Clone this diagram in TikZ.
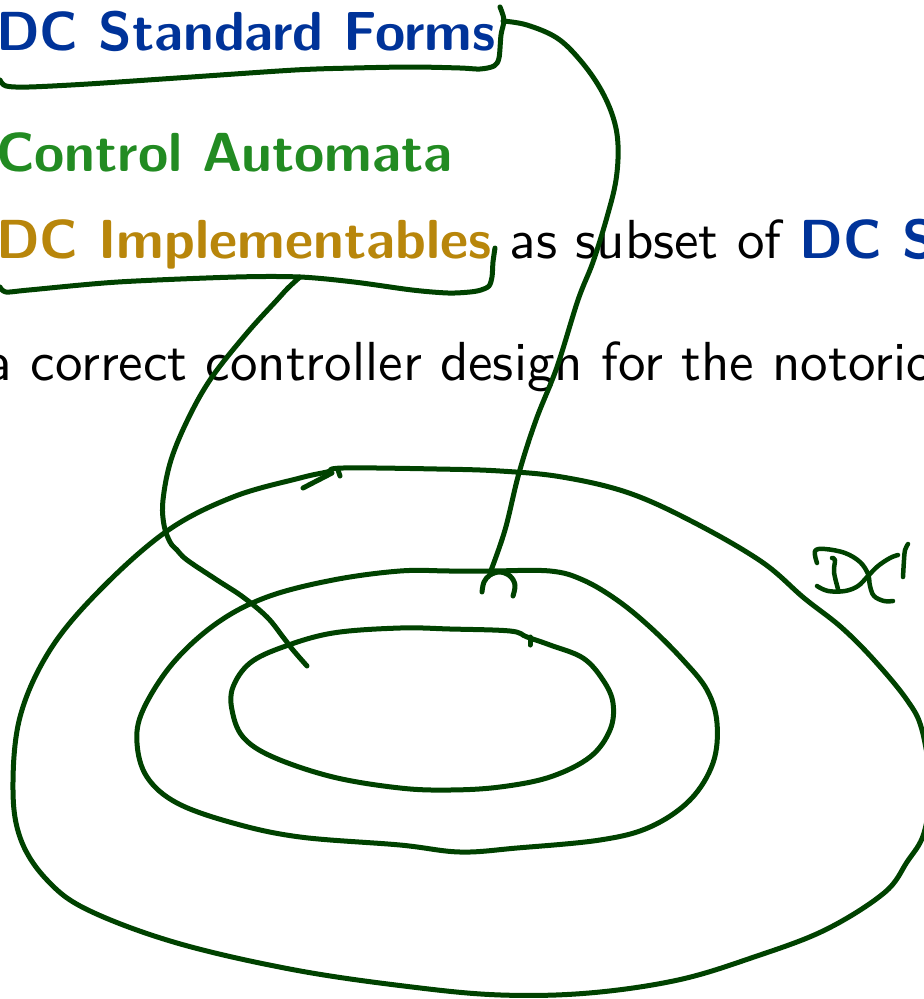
\documentclass[tikz,border=0pt]{standalone}
\usepackage{fontspec}
\setsansfont{lmsans10-regular}[Extension=.otf, BoldFont=lmsans10-bold]
\definecolor{dcblue}{RGB}{0,51,153}
\definecolor{dcgreen}{RGB}{34,139,34}
\definecolor{dcgold}{RGB}{184,134,11}
\definecolor{inkgreen}{RGB}{0,66,0}
\tikzset{
  txt/.style={anchor=base west, inner sep=0pt, outer sep=0pt,
    font=\sffamily\fontsize{55}{62}\selectfont},
  ink/.style={draw=inkgreen, line width=5pt, line cap=round, line join=round},
}
\begin{document}
\begin{tikzpicture}[x=1pt, y=-1pt]
\useasboundingbox (0,0) rectangle (924,999);
\clip (0,0) rectangle (924,999);

% slide text
\node[txt] (forms) at (-4,50) {\bfseries\color{dcblue}DC Standard Forms};
\node[txt] (automata) at (-4,171) {\bfseries\color{dcgreen}Control Automata};
\node[txt] (impl) at (-4,258) {{\bfseries\color{dcgold}DC Implementables} as subset of {\bfseries\color{dcblue}DC Standard Forms}};
\node[txt] (design) at (-14,380) {a correct controller design for the notorious gas burner};

% hand-drawn brackets under the two highlighted terms
\draw[ink] plot[smooth, tension=0.5] coordinates {(500,7) (504,20) (501,35) (499,58) (494,66) (480,69) (460,68) (412,67) (354,68) (295,70) (177,78) (88,84) (29,87) (6,86) (0,80)};
\draw[ink] plot[smooth, tension=0.5] coordinates {(495,248) (493,262) (492,277) (489,286) (481,290) (470,292) (448,293) (412,290) (354,282) (300,277) (236,277) (118,282) (29,290) (6,292) (0,287)};

\coordinate (formsEnd) at (503,21);
\coordinate (implEnd) at (300,277);
\coordinate (midTop) at (490,573);
\coordinate (innerTop) at (307,666);

% connector from DC Standard Forms to the middle region
\draw[ink] plot[smooth, tension=0.6] coordinates {(formsEnd) (527,25) (557,38) (580,60) (600,88) (613,117) (618,145) (616,180) (607,217) (593,262) (578,300) (557,367) (536,420) (519,473) (505,530) (midTop)};
\draw[ink] plot[smooth, tension=0.6] coordinates {(482,592) (484,582) (490,575) (500,572) (510,576) (515,585) (513,596)};

% connector from DC Implementables to the inner region
\draw[ink] plot[smooth, tension=0.6] coordinates {(implEnd) (288,288) (277,300) (247,333) (212,377) (189,417) (171,460) (163,500) (164,525) (170,542) (177,550) (187,560) (217,580) (243,597) (267,617) (283,637) (293,650) (innerTop)};

% outer region (DC)
\draw[ink] plot[smooth cycle, tension=0.6] coordinates {(343,468) (437,469) (500,471) (562,477) (629,493) (695,523) (762,562) (804,598) (841,627) (874,660) (907,700) (922,730) (930,785) (924,833) (907,862) (884,893) (825,930) (754,957) (678,980) (589,993) (501,995) (412,987) (295,970) (177,943) (88,910) (47,880) (21,840) (13,790) (20,717) (50,650) (100,590) (167,531) (233,497) (300,478) (327,472)};
\draw[ink] (303,488) -- (332,473);
\draw[ink] (338,470) -- (340,476);

% middle region
\draw[ink] plot[smooth cycle, tension=0.6] coordinates {(450,571) (490,571) (550,571) (583,580) (617,600) (650,627) (683,660) (707,690) (717,723) (713,763) (690,800) (650,827) (600,840) (517,848) (460,852) (400,845) (300,837) (233,823) (177,803) (147,777) (137,743) (143,710) (173,663) (217,623) (267,597) (333,580) (400,571)};

% inner region
\draw[ink] plot[smooth cycle, tension=0.6] coordinates {(450,629) (510,631) (527,637) (550,645) (583,658) (603,680) (613,703) (610,730) (590,757) (550,777) (500,787) (450,790) (400,788) (333,777) (273,757) (243,737) (232,710) (233,687) (250,663) (283,647) (333,633) (400,628)};
\draw[ink] (530,637) -- (530,645);

% handwritten "DC" label
\draw[ink, line width=4.5pt] plot[smooth, tension=0.6] coordinates {(817,563) (815,551) (825,549) (845,553) (860,562) (868,574) (870,586) (874,596) (884,601) (893,601)};
\draw[ink, line width=4.5pt] plot[smooth, tension=0.6] coordinates {(817,586) (828,591) (845,591) (858,586) (868,576) (878,566) (890,558) (898,555)};
\draw[ink, line width=4.5pt] plot[smooth, tension=0.6] coordinates {(832,558) (835,560) (834,572) (838,589)};
\draw[ink, line width=4.5pt] plot[smooth, tension=0.6] coordinates {(908,544) (905,550) (904,560) (903,577)};
\end{tikzpicture}
\end{document}
